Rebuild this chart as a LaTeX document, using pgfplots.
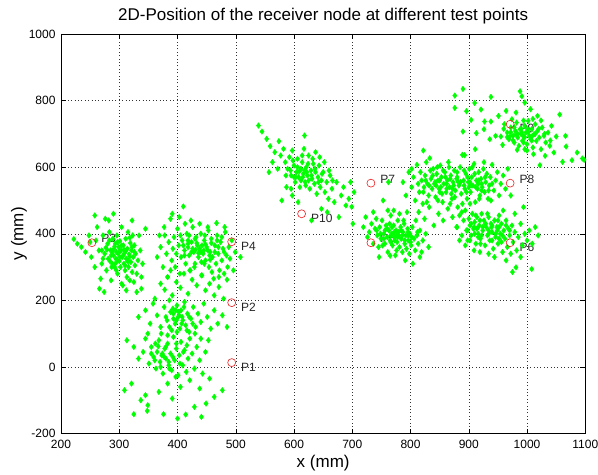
\documentclass[border=0pt]{standalone}
\usepackage{fontspec}
\setmainfont{Liberation Sans}
\usepackage{pgfplots}
\pgfplotsset{compat=1.18}
\definecolor{mgreen}{RGB}{0,255,0}
\definecolor{mred}{RGB}{235,30,30}
\begin{document}
\begin{tikzpicture}
\begin{axis}[
 scale only axis, width=524.3pt, height=399.5pt,
 xmin=200, xmax=1100, ymin=-200, ymax=1000,
 xtick={200,300,...,1100}, ytick={-200,0,...,1000},
 grid=major,
 major grid style={black!80, line width=0.5pt, dash pattern=on 0.8pt off 2.6pt},
 tick align=inside, major tick length=5pt,
 tick style={black, line width=0.5pt},
 axis line style={black, line width=0.6pt},
 ticklabel style={font=\fontsize{12}{14}\selectfont},
 xticklabel style={yshift=-3pt},
 yticklabel style={xshift=-2pt},
 /pgf/number format/assume math mode=true,
 /pgf/number format/set thousands separator={},
 title={2D-Position of the receiver node at different test points},
 title style={font=\fontsize{17}{19}\selectfont, at={(axis description cs:0.5,1)}, anchor=center, yshift=12pt},
 xlabel={x (mm)},
 xlabel style={font=\fontsize{17}{19}\selectfont, at={(axis description cs:0.5,0)}, anchor=center, yshift=-30pt},
]
% labels below
\addplot[draw=none, mark=none, nodes near coords, point meta=explicit symbolic,
  every node near coord/.append style={anchor=west, xshift=6pt, yshift=-4.5pt, font=\fontsize{12}{14}\selectfont, text=black!85}]
  table[meta=label] {
x y label
493 13 P1
493 193 P2
493 376 P4
971 373 P6
971 729 P9
613 460 P10
};
% labels above
\addplot[draw=none, mark=none, nodes near coords, point meta=explicit symbolic,
  every node near coord/.append style={anchor=west, xshift=6pt, yshift=4pt, font=\fontsize{12}{14}\selectfont, text=black!85}]
  table[meta=label] {
x y label
253 373 P3
732 373 P5
732 552 P7
971 552 P8
};
% measured positions
\addplot[only marks, mark=diamond*, mark size=2.8pt, color=mgreen, mark options={fill=mgreen, draw=mgreen}] coordinates {
(222,384)(228,370)
(235,360)(248,395)(252,330)(258,300)(260,380)(262,420)(265,350)(268,265)(270,310)(272,395)
(275,340)(276,445)(278,290)(280,370)(281,325)(283,405)(285,350)(286,260)(288,310)(289,385)
(290,335)(291,355)(292,300)(293,370)(294,325)(295,345)(296,395)(297,280)(298,340)(299,360)
(300,318)(301,378)(302,300)(303,350)(304,420)(305,330)(306,245)(307,365)(308,310)(309,342)
(310,290)(311,385)(312,325)(313,270)(314,355)(315,405)(316,300)(317,338)(318,260)(319,372)
(320,315)(321,350)(322,285)(323,395)(324,330)(325,255)(326,365)(327,305)(328,340)(330,280)
(332,320)(334,395)(336,350)(338,270)(340,310)(258,455)(266,235)(274,225)(282,440)(290,460)
(304,250)(312,230)(322,440)(272,325)(279,352)(286,335)(294,312)(301,330)(308,352)(316,318)
(250,375)(242,345)(330,225)(338,235)(345,415)
(284,318)(288,348)(292,362)(296,322)(300,345)(304,365)(307,335)(311,348)(314,318)(318,332)
(287,300)(297,375)(310,305)(322,360)(277,358)(283,380)(318,388)(326,345)(270,350)(295,290)
(365,330)(371,360)(375,300)(378,395)(381,340)(383,270)(385,375)(388,445)(390,320)(392,355)
(394,390)(396,300)(398,340)(400,415)(402,365)(404,280)(406,330)(408,380)(410,482)(412,350)
(414,310)(416,400)(418,360)(420,335)(422,290)(424,375)(426,420)(428,345)(430,310)(432,390)
(434,365)(436,330)(438,355)(440,400)(442,275)(444,340)(446,380)(448,320)(450,360)(452,420)
(454,300)(456,345)(458,385)(460,330)(462,265)(464,365)(466,310)(468,395)(470,340)(472,290)
(474,375)(476,320)(478,355)(480,280)(482,405)(484,335)(486,300)(488,360)(490,325)(493,380)
(496,290)(499,345)(423,440)(438,430)(453,410)(467,432)(481,420)(391,460)(403,450)(413,430)
(429,300)(441,315)(459,285)(471,270)(485,262)(433,372)(445,350)(431,352)(448,368)(455,335)
(377,420)(369,395)(508,330)(405,395)(418,380)
(412,335)(418,370)(424,345)(430,385)(436,342)(442,365)(447,395)(452,350)(458,372)(464,345)
(470,360)(476,390)(420,395)(440,345)(456,322)(468,380)(426,355)(446,310)(480,345)(410,365)
(371,250)(378,232)(383,270)(391,215)(398,255)(405,238)(411,280)(418,220)(425,262)(433,245)
(441,275)(448,230)(455,250)(463,215)(471,240)(479,205)(388,290)(421,290)
(333,150)(345,170)(353,130)(358,190)(365,155)(371,120)(377,180)(382,140)(386,200)(390,110)
(393,160)(396,130)(399,185)(401,150)(404,115)(406,170)(409,140)(412,195)(414,125)(417,160)
(420,105)(423,145)(427,180)(431,120)(435,160)(440,135)(445,190)(451,150)(457,115)(463,170)
(469,130)(477,155)(485,120)(349,100)(361,205)(393,145)(397,170)(403,155)(388,165)(408,150)
(313,80)(325,60)(333,25)(341,45)(345,85)(351,10)(355,60)(359,30)(363,-5)(365,45)
(368,80)(370,15)(373,35)(375,-20)(378,55)(380,25)(383,70)(385,5)(388,40)(390,-10)
(393,90)(395,20)(398,55)(401,-25)(403,35)(406,75)(409,5)(412,50)(415,-15)(418,25)
(421,85)(425,40)(429,-5)(433,60)(438,20)(443,-20)(448,45)(453,80)(361,20)(371,0)
(377,30)(385,15)(355,40)(367,62)
(380,150)(386,120)(392,175)(398,140)(402,165)(407,130)(411,180)(416,110)(420,150)(426,130)
(374,40)(380,60)(386,-5)(392,30)(398,70)(404,10)(410,45)(416,65)(372,100)(430,100)
(362,70)(440,85)(383,95)(399,105)
(309,-70)(321,-50)(337,-100)(345,-85)(349,-115)(325,-142)(368,-75)(383,-50)(391,-95)(405,-60)
(348,-132)(421,-40)(429,-120)(438,-65)(441,-150)(449,-110)(455,-35)(477,-70)(463,-90)(397,-30)
(376,-142)(400,-155)(414,-143)
(539,725)(545,707)(553,685)(559,663)(567,645)(574,678)(577,635)(582,655)(585,615)(589,595)
(592,630)(595,575)(597,650)(600,605)(602,555)(604,585)(606,625)(608,570)(610,540)(612,595)
(614,615)(616,580)(618,695)(619,555)(621,600)(623,575)(625,635)(627,535)(629,590)(631,565)
(633,610)(635,550)(637,585)(639,520)(641,570)(643,605)(645,540)(647,560)(650,585)(653,525)
(656,555)(659,505)(662,575)(665,535)(669,495)(673,555)(677,450)(681,515)(685,540)(689,485)
(694,505)(699,481)(703,525)(579,500)(587,540)(597,515)(607,495)(630,440)(647,475)(657,465)
(572,595)(563,615)(595,535)(617,655)(637,645)(652,615)(609,587)(622,585)(615,570)(603,570)
(625,560)(557,585)(697,555)
(594,590)(600,570)(606,600)(612,560)(618,590)(624,610)(630,575)(636,595)(642,555)(648,580)
(598,620)(614,635)(632,625)(620,545)(660,590)(666,560)(586,575)(644,630)
(719,420)(723,450)(726,390)(729,405)(733,430)(736,370)(739,415)(741,445)(743,395)(745,360)
(747,420)(749,385)(751,440)(753,500)(754,400)(756,370)(758,425)(760,390)(761,345)(763,410)
(765,380)(766,455)(768,400)(769,365)(771,425)(772,390)(774,335)(775,410)(777,375)(778,440)
(780,395)(781,360)(783,420)(784,385)(786,345)(787,405)(789,430)(790,370)(792,395)(793,355)
(795,415)(796,380)(798,340)(799,400)(801,365)(803,420)(804,310)(806,385)(808,350)(809,440)
(811,395)(813,370)(816,410)(819,345)(821,380)(826,400)(831,360)(765,334)(746,330)(791,320)
(771,470)(781,460)(761,470)(736,465)(816,330)(776,395)(766,395)(786,395)(779,405)(773,380)
(756,410)(796,395)(701,430)
(748,400)(754,385)(760,415)(766,375)(772,405)(778,390)(784,410)(790,380)(796,405)(802,390)
(752,365)(764,430)(776,350)(788,440)(800,375)(812,405)(742,410)(768,420)
(787,555)(792,515)(797,585)(802,540)(805,570)(808,500)(811,607)(813,550)(815,525)(817,585)
(819,560)(821,490)(823,540)(825,575)(827,615)(829,550)(831,515)(833,627)(835,565)(837,535)
(839,595)(841,550)(843,510)(845,580)(847,560)(849,535)(851,605)(853,570)(855,495)(857,550)
(859,585)(861,525)(863,560)(865,615)(867,540)(869,575)(871,505)(873,555)(875,590)(877,530)
(879,565)(881,480)(883,545)(885,600)(887,520)(889,637)(891,560)(893,535)(895,580)(897,505)
(899,555)(901,595)(903,525)(905,570)(907,545)(909,610)(911,495)(913,560)(915,535)(917,585)
(919,515)(921,565)(923,540)(925,595)(927,525)(929,555)(931,580)(933,505)(935,545)(937,570)
(940,607)(943,530)(946,560)(949,585)(952,515)(955,550)(959,575)(963,535)(967,595)(972,515)
(814,465)(824,445)(832,480)(840,425)(848,460)(856,440)(864,475)(872,450)(880,420)(888,465)
(828,495)(847,500)(868,490)(889,490)(842,555)(852,540)(862,550)(872,535)(882,555)(892,545)
(902,555)(912,540)(922,550)(850,525)(860,570)(870,520)(880,585)(900,540)(917,560)(934,530)
(802,595)(794,465)(822,650)(762,555)
(826,560)(832,545)(838,575)(844,545)(850,560)(856,590)(862,535)(868,565)(874,545)(880,570)
(886,555)(892,590)(898,570)(904,545)(910,580)(916,550)(922,530)(928,570)(834,590)(854,520)
(876,510)(896,525)(918,505)(940,550)(846,600)(866,600)(906,600)(926,615)(822,525)(938,500)
(879,420)(884,455)(888,395)(891,440)(894,470)(896,410)(898,380)(900,445)(902,425)(904,395)
(906,460)(908,415)(910,435)(912,370)(914,450)(916,400)(918,425)(920,385)(922,460)(924,410)
(926,440)(928,365)(930,420)(932,395)(934,450)(936,380)(938,430)(940,405)(942,355)(944,440)
(946,390)(948,420)(950,370)(952,455)(954,400)(956,430)(958,345)(960,410)(962,385)(964,440)
(966,360)(968,415)(970,395)(972,340)(974,425)(976,375)(979,405)(982,350)(985,390)(989,430)
(992,365)(996,400)(1000,380)(1004,410)(975,285)(981,299)(1008,294)(964,320)(989,330)(944,330)
(919,345)(934,340)(909,350)(894,365)(959,470)(979,460)(994,480)(1009,370)(884,380)(902,490)
(914,415)(924,420)(934,410)(929,430)(919,440)(909,420)(949,410)(916,390)(939,420)(952,385)
(1014,420)(1019,395)
(898,410)(904,430)(910,400)(916,420)(922,395)(928,430)(934,400)(940,425)(946,400)(952,420)
(958,395)(964,425)(902,380)(920,370)(940,380)(956,375)(912,455)(932,460)(950,440)(970,410)
(876,815)(890,835)(876,778)(910,793)(938,811)(988,828)(991,813)(896,768)(921,773)(904,742)
(927,737)(890,707)(913,702)(938,737)(893,636)(951,754)(961,729)(966,704)(969,684)(972,719)
(974,744)(976,694)(978,674)(980,709)(982,734)(984,689)(986,664)(988,714)(990,699)(992,679)
(994,692)(996,724)(998,704)(1000,669)(1002,739)(1004,694)(1006,684)(1008,714)(1010,659)(1012,699)
(1014,729)(1016,679)(1018,709)(1021,689)(1024,654)(1026,719)(1029,694)(1032,674)(1036,704)(1039,664)
(955,692)(958,667)(983,652)(1022,606)(1056,758)(1050,692)(1067,662)(1061,616)(1077,621)(1095,626)
(1098,622)(1046,644)(1042,724)(964,769)(981,764)(1006,774)(1018,754)(946,694)(936,684)(926,714)
(1031,634)(1011,639)(996,654)(991,704)(1001,714)(981,699)(1009,694)(994,674)(971,694)(1086,644)
(1066,694)(911,654)(996,794)
(966,690)(972,705)(978,720)(984,700)(990,715)(996,690)(1002,705)(1008,680)(1014,700)(1020,715)
(994,740)(1010,745)(976,680)(1000,650)(1030,700)(1040,680)(960,715)(1024,740)
};
% test points
\addplot[only marks, mark=o, mark size=4pt, color=mred, mark options={line width=0.6pt}] coordinates {
(493,13)(493,193)(253,373)(493,376)(732,373)(971,373)(732,552)(971,552)(971,729)(613,460)
};
\end{axis}
\node[rotate=90, font=\fontsize{17}{19}\selectfont] at ([xshift=-42pt]current axis.west) {y (mm)};
\pgfresetboundingbox
\path[use as bounding box] ([xshift=-61pt,yshift=-40.5pt]current axis.south west) rectangle ([xshift=12.7pt,yshift=34pt]current axis.north east);
\end{tikzpicture}
\end{document}
